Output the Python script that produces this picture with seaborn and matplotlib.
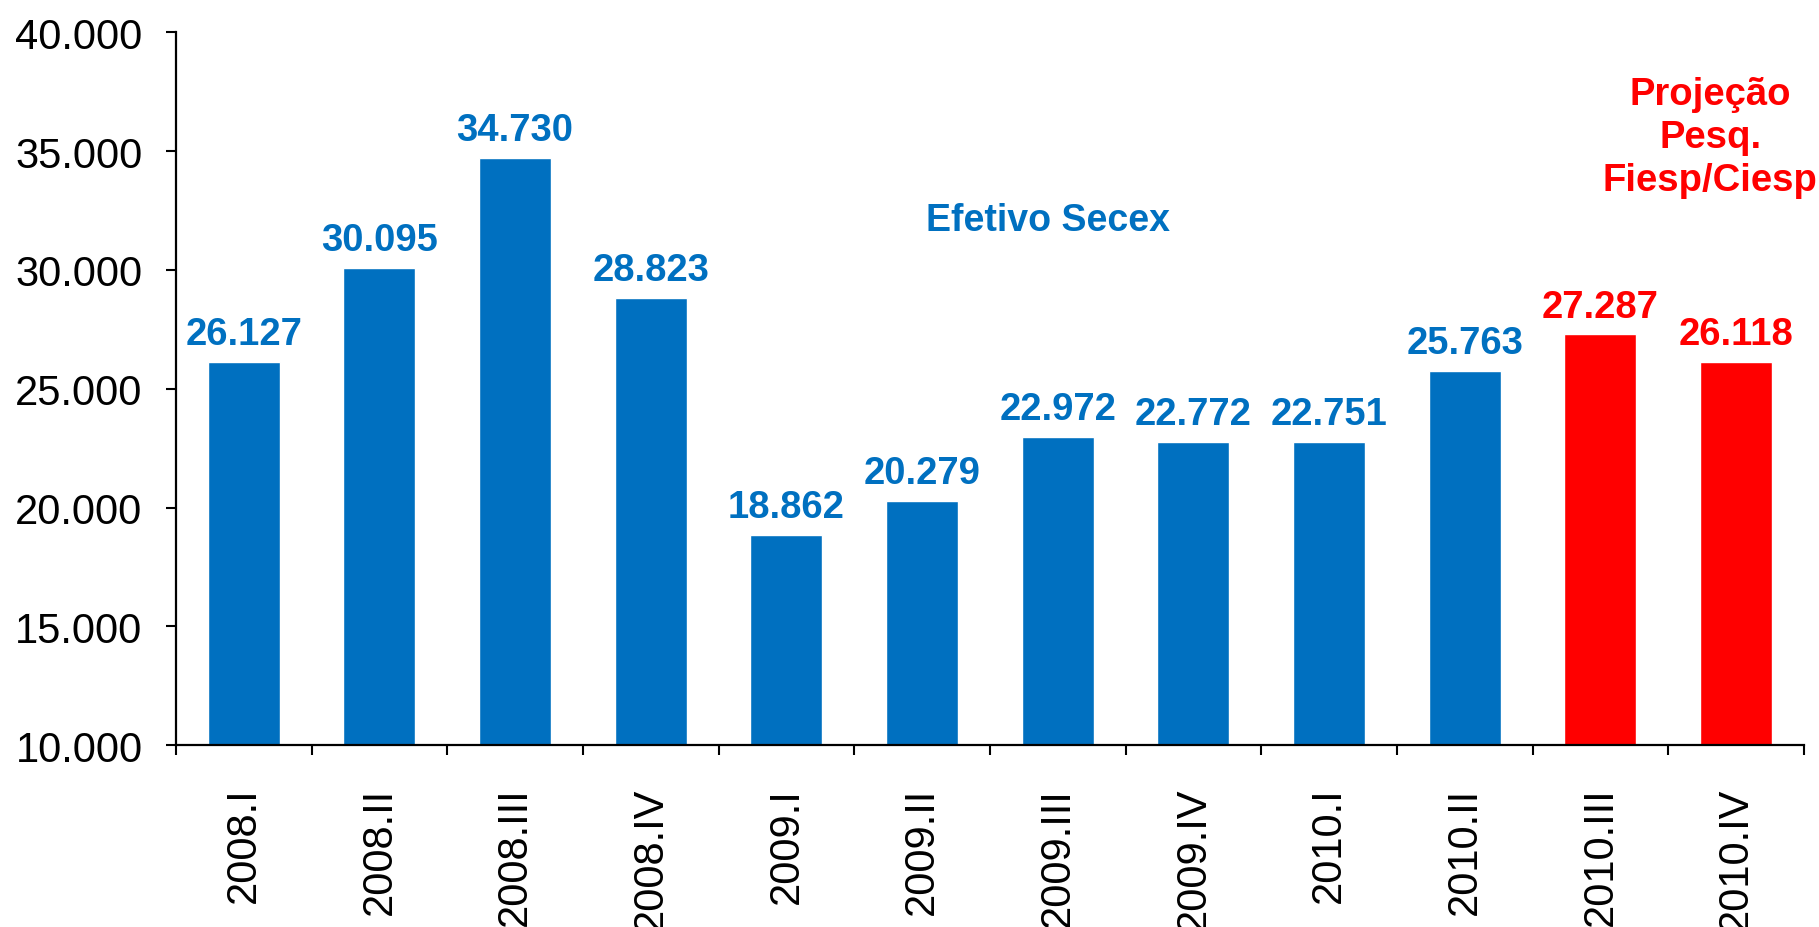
import numpy as np
import seaborn as sns
import matplotlib.pyplot as plt

# Dados
periodos = ['2008.I', '2008.II', '2008.III', '2008.IV',
            '2009.I', '2009.II', '2009.III', '2009.IV',
            '2010.I', '2010.II', '2010.III', '2010.IV']
valores = [26127, 30095, 34730, 28823,
           18862, 20279, 22972, 22772,
           22751, 25763, 27287, 26118]
tipo = ['Efetivo'] * 10 + ['Projeção'] * 2

azul = '#0070C0'
vermelho = '#FF0000'
cores = {p: (azul if t == 'Efetivo' else vermelho) for p, t in zip(periodos, tipo)}

sns.set_style("ticks")
plt.rcParams['font.family'] = ['Liberation Sans', 'DejaVu Sans']

fig = plt.figure(figsize=(18.19, 9.28), dpi=100)
ax = fig.add_axes([0.0967, 0.196, 0.895, 0.768])

sns.barplot(x=periodos, y=valores, hue=periodos, order=periodos,
            palette=cores, legend=False, width=0.53, saturation=1, ax=ax)

# Rotulos das barras
for cont, p in zip(ax.containers, periodos):
    ax.bar_label(cont, labels=[f'{v:,.0f}'.replace(',', '.') for v in cont.datavalues],
                 padding=7, fontsize=27.5, fontweight='bold', color=cores[p])

# Eixo Y
ticks_y = np.arange(10000, 40001, 5000)
ax.set_ylim(10000, 40000)
ax.set_yticks(ticks_y)
ax.set_yticklabels([f'{v:,.0f}'.replace(',', '.') for v in ticks_y])
ax.tick_params(axis='y', labelsize=30, length=7, width=1.5, pad=17,
               color='black', labelcolor='black')

# Eixo X: ticks nas divisas das categorias
ax.set_xlim(-0.5, len(periodos) - 0.5)
ax.set_xticks(np.arange(len(periodos)))
ax.set_xticklabels(periodos, rotation=90)
ax.set_xticks(np.arange(-0.5, len(periodos), 1), minor=True)
ax.tick_params(axis='x', which='major', labelsize=30, length=0, pad=30, labelcolor='black')
ax.tick_params(axis='x', which='minor', length=7, width=1.5, color='black')

for s in ['top', 'right']:
    ax.spines[s].set_visible(False)
for s in ['left', 'bottom']:
    ax.spines[s].set_color('black')
    ax.spines[s].set_linewidth(1.6)

ax.set_xlabel('')
ax.set_ylabel('')

# Textos
ax.text(5.93, 32100, 'Efetivo Secex', color=azul, fontsize=27, fontweight='bold',
        ha='center', va='center')
ax.text(10.81, 35600, 'Projeção\nPesq.\nFiesp/Ciesp', color=vermelho, fontsize=27.5,
        fontweight='bold', ha='center', va='center', linespacing=1.25)

plt.savefig('out.png', dpi=100)
